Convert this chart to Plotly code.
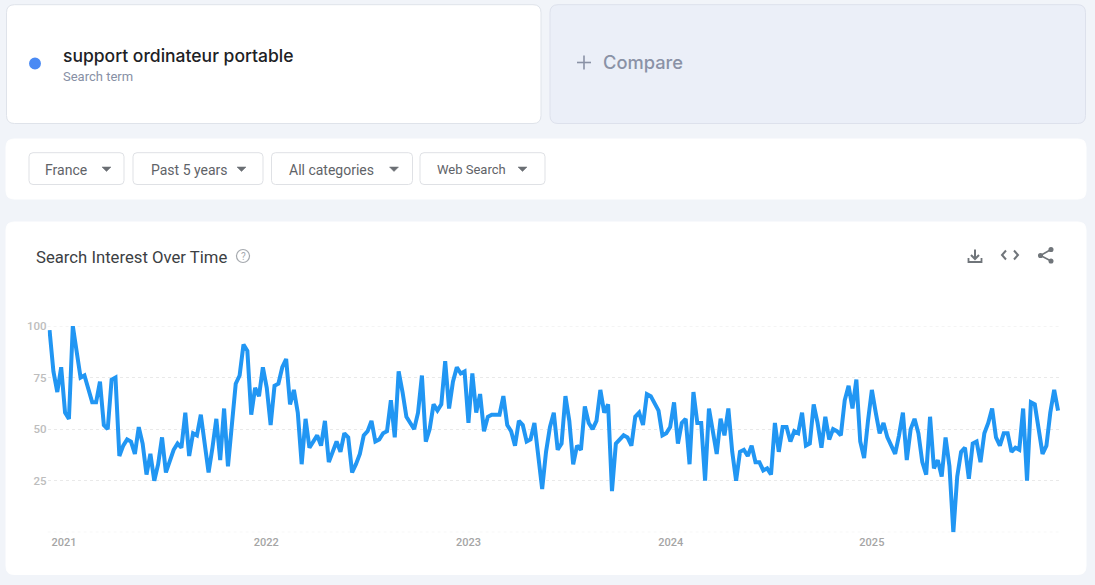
import pandas as pd
import plotly.graph_objects as go

W, H = 1095, 585

# weekly interest
interest_2021 = [98, 78, 68, 80, 58, 55, 100, 87, 75, 76, 70, 63, 63, 73, 52, 50, 74, 75, 37, 42,
                 45, 44, 38, 51, 43, 28, 38, 25, 33, 46, 29, 34, 40, 43, 41, 58, 37, 48, 47, 57,
                 42, 29, 41, 55, 35, 60, 32, 50, 72, 76, 91, 88]
interest_2022 = [57, 70, 66, 80, 70, 52, 71, 72, 80, 84, 62, 69, 58, 33, 55, 41, 44, 47, 42, 54,
                 34, 39, 44, 39, 48, 46, 29, 33, 38, 47, 49, 54, 44, 45, 48, 49, 64, 46, 78, 68,
                 56, 53, 50, 58, 76, 44, 50, 62, 59, 62, 83, 60]
interest_2023 = [73, 80, 77, 78, 53, 77, 58, 67, 49, 56, 57, 57, 57, 66, 52, 49, 42, 54, 52, 44,
                 45, 53, 36, 21, 39, 51, 58, 40, 43, 66, 54, 33, 42, 40, 61, 53, 50, 54, 69, 58,
                 62, 20, 43, 45, 47, 46, 42, 56, 58, 52, 67, 66]
interest_2024 = [62, 59, 47, 48, 51, 63, 43, 53, 55, 33, 68, 53, 53, 25, 60, 50, 38, 55, 47, 60,
                 39, 25, 39, 40, 37, 42, 34, 34, 30, 31, 28, 53, 39, 51, 51, 44, 49, 48, 58, 42,
                 43, 62, 53, 41, 56, 45, 50, 49, 47, 64, 71, 60]
interest_2025 = [74, 44, 36, 54, 69, 58, 48, 53, 46, 42, 38, 47, 58, 35, 50, 55, 48, 34, 28, 56,
                 31, 35, 27, 46, 32, 0, 27, 39, 41, 26, 43, 44, 34, 48, 53, 60, 46, 42, 48, 48,
                 39, 41, 40, 60, 25, 63, 62, 50, 38, 42, 58, 69, 59]
interest = interest_2021 + interest_2022 + interest_2023 + interest_2024 + interest_2025
weeks = pd.date_range("2020-12-06", periods=len(interest), freq="7D")

year_ticks = ["2021-01-01", "2022-01-01", "2023-01-01", "2024-01-01", "2024-12-29"]
year_labels = ["2021", "2022", "2023", "2024", "2025"]
y_ticks = [0, 25, 50, 75, 100]
y_labels = ["", "25", "50", "75", "100"]

filters = ["France", "Past 5 years", "All categories", "Web Search"]
filter_boxes = [(29, 124), (133, 263), (271.5, 412.5), (420, 545)]
filter_text_x = [45, 151, 288.5, 437]
filter_arrow_x = [106.5, 241.5, 394, 522.5]

PAGE = "#f1f4f9"
GRID = "#e9e9e9"
half_week = pd.Timedelta(days=3.5)


def px(x):
    return x / W


def py(y):
    return 1 - y / H


def line_path(points, close=False):
    d = "M " + " L ".join(f"{px(x):.5f},{py(y):.5f}" for x, y in points)
    return d + (" Z" if close else "")


def round_rect(x0, y0, x1, y1, r, fill, line=None):
    a, b, c, d = px(x0), px(x1), py(y0), py(y1)
    rx, ry = r / W, r / H
    path = (f"M {a + rx},{c} L {b - rx},{c} Q {b},{c} {b},{c - ry} L {b},{d + ry} Q {b},{d} {b - rx},{d} "
            f"L {a + rx},{d} Q {a},{d} {a},{d + ry} L {a},{c - ry} Q {a},{c} {a + rx},{c} Z")
    return dict(type="path", path=path, xref="paper", yref="paper", fillcolor=fill, layer="below",
                line=dict(color=line or fill, width=1))


def stroke(points, color, width=2, close=False, fill=None):
    return dict(type="path", path=line_path(points, close), xref="paper", yref="paper", layer="below",
                fillcolor=fill, line=dict(color=color, width=width))


def circle(cx, cy, r, fill=None, line=None, width=1.5):
    return dict(type="circle", xref="paper", yref="paper", x0=px(cx - r), x1=px(cx + r), y0=py(cy + r),
                y1=py(cy - r), fillcolor=fill, line=dict(color=line or fill, width=width), layer="below")


def label(text, x, y, size, color, family, anchor="left", weight=400):
    return dict(text=text, x=px(x), y=py(y), xref="paper", yref="paper", xanchor=anchor, yanchor="middle",
                showarrow=False, font=dict(size=size, color=color, family=family, weight=weight),
                borderpad=0, borderwidth=0)


shapes = [
    round_rect(6.5, 4.7, 541, 123.5, 8, "#ffffff", "#dfe3ea"),
    round_rect(550, 4.7, 1085.5, 123.5, 8, "#ebeff8", "#dde1ec"),
    round_rect(6, 139, 1086, 199, 8, "#ffffff"),
    round_rect(6, 222, 1086, 574.5, 8, "#ffffff"),
    circle(35, 63.5, 5.2, fill="#4a8af4"),
    # plus sign of the compare card
    stroke([(577, 62.5), (591, 62.5)], "#8a92a6", 1.6),
    stroke([(584, 55.5), (584, 69.5)], "#8a92a6", 1.6),
    # help icon
    circle(243, 256, 6.5, line="#a5a9ae", width=1.2),
]

# plotly leaves out the gridlines sitting on the edge of the range
for edge in [y_ticks[0], y_ticks[-1]]:
    shapes.append(dict(type="line", xref="x domain", yref="y", x0=0, x1=1, y0=edge, y1=edge, layer="below",
                       line=dict(color=GRID, width=1, dash="dot")))

annotations = [
    label("support ordinateur portable", 63, 55, 17.5, "#202124", "Inter", weight=500),
    label("Search term", 63, 76.5, 13, "#8790a5", "Roboto"),
    label("Compare", 603, 62.5, 18.3, "#8a92a6", "Inter", weight=500),
    label("Search Interest Over Time", 36, 257, 16.7, "#3c4043", "Roboto"),
    label("?", 243, 256, 10, "#a5a9ae", "Roboto", "center"),
]

for name, box, tx, ax in zip(filters, filter_boxes, filter_text_x, filter_arrow_x):
    shapes.append(round_rect(box[0], 152.7, box[1], 184.5, 4, "#ffffff", "#dfe1e5"))
    shapes.append(stroke([(ax - 4.5, 167), (ax + 4.5, 167), (ax, 171.5)], "#6b6f74", 0.5, True, "#6b6f74"))
    annotations.append(label(name, tx, 169.5, 14 if name != "Web Search" else 13, "#5f6368", "Roboto"))

ICON = "#70757a"
# download
shapes += [
    stroke([(975, 249.5), (975, 258)], ICON, 2),
    stroke([(971, 255), (975, 259), (979, 255)], ICON, 2),
    stroke([(968.5, 258), (968.5, 262), (981.5, 262), (981.5, 258)], ICON, 1.8),
]
# embed
shapes += [
    stroke([(1006, 250.5), (1002, 255), (1006, 259.5)], ICON, 2),
    stroke([(1014, 250.5), (1018, 255), (1014, 259.5)], ICON, 2),
]
# share
shapes += [
    stroke([(1051, 249.5), (1040.5, 255.5), (1051, 261)], ICON, 1.6),
    circle(1051, 249.5, 1.8, fill=ICON),
    circle(1040.5, 255.5, 1.8, fill=ICON),
    circle(1051, 261, 1.8, fill=ICON),
]

fig = go.Figure(go.Scatter(x=weeks, y=interest, mode="lines", line=dict(color="#2196f3", width=4),
                           hoverinfo="x+y"))

fig.update_layout(
    width=W,
    height=H,
    margin=dict(l=0, r=0, t=0, b=0),
    paper_bgcolor=PAGE,
    plot_bgcolor="rgba(0,0,0,0)",
    showlegend=False,
    shapes=shapes,
    annotations=annotations,
    xaxis=dict(domain=[px(47.6), px(1060)], range=[weeks[0] - half_week, weeks[-1] + half_week],
               tickvals=year_ticks, ticktext=year_labels, showgrid=False, zeroline=False, showline=False,
               ticks="", automargin=False, ticklabelstandoff=2,
               tickfont=dict(size=11, color="#a5a5a5", family="Roboto", weight=500)),
    yaxis=dict(domain=[py(532.3), py(326)], range=[0, 100], tickvals=y_ticks, ticktext=y_labels,
               showgrid=True, gridcolor=GRID, griddash="dot", gridwidth=1, zeroline=False,
               showline=False, ticks="", automargin=False,
               tickfont=dict(size=11.5, color="#bdbdbd", family="Roboto", weight=500)),
)

fig.write_html("out.html", config=dict(displayModeBar=False),
               post_script="document.body.style.margin='0';document.body.style.overflow='hidden';")
